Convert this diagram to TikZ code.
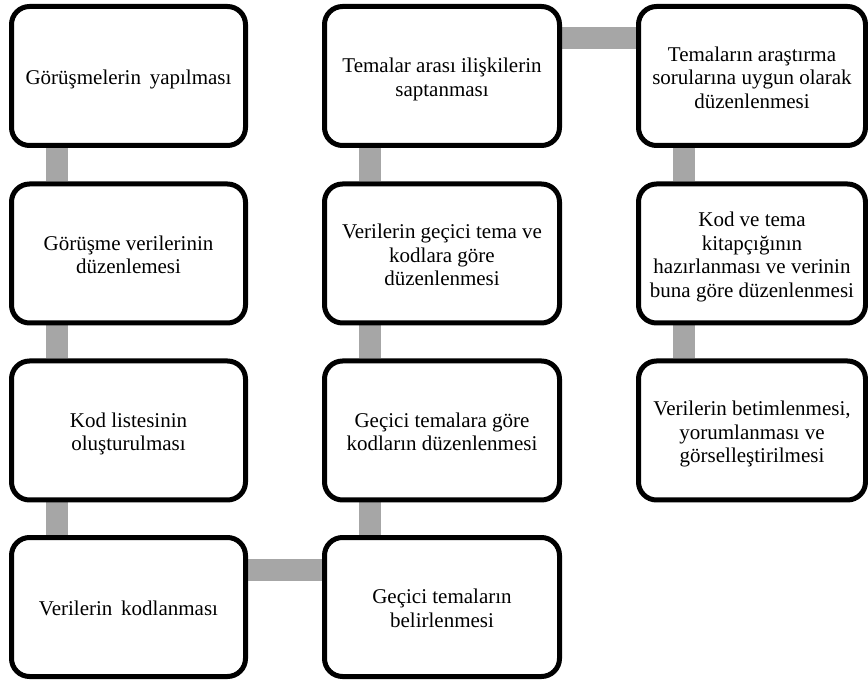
\documentclass[tikz,border=0pt]{standalone}
\usepackage{fontspec}
\setmainfont{Liberation Serif}
\pgfdeclarelayer{background}
\pgfsetlayers{background,main}
\definecolor{conngray}{RGB}{166,166,166}
\newcommand\boxtext[1]{\raisebox{-4pt}[\height][\depth]{\begin{tabular}{@{}c@{}}#1\end{tabular}}}
\tikzset{
  box/.style={draw=black, line width=5pt, fill=white, rounded corners=18pt,
    minimum height=139pt, inner sep=2pt,
    font=\fontsize{21}{23.5}\selectfont},
  c1/.style={box, minimum width=234pt},
  c2/.style={box, minimum width=235pt},
  c3/.style={box, minimum width=227pt},
  conn/.style={draw=conngray, line width=22pt}
}
\begin{document}
\begin{tikzpicture}[x=1pt,y=-1pt]
\useasboundingbox (0,0) rectangle (868,684);
% column 1
\node[c1] (a1) at (128.5,76) {\boxtext{Görüşmelerin\, yapılması}};
\node[c1] (a2) at (128.5,253.5) {\boxtext{Görüşme verilerinin\\düzenlemesi}};
\node[c1] (a3) at (128.5,430.5) {\boxtext{Kod listesinin\\oluşturulması}};
\node[c1] (a4) at (128.5,607) {\boxtext{Verilerin\, kodlanması}};
% column 2
\node[c2] (b4) at (442,607) {\boxtext{Geçici temaların\\belirlenmesi}};
\node[c2] (b3) at (442,430.5) {\boxtext{Geçici temalara göre\\kodların düzenlenmesi}};
\node[c2] (b2) at (442,253.5) {\boxtext{Verilerin geçici tema ve\\kodlara göre\\düzenlenmesi}};
\node[c2] (b1) at (442,76) {\boxtext{Temalar arası ilişkilerin\\saptanması}};
% column 3
\node[c3] (d1) at (752,76) {\boxtext{Temaların araştırma\\sorularına uygun olarak\\düzenlenmesi}};
\node[c3] (d2) at (752,253.5) {\boxtext{Kod ve tema\\kitapçığının\\hazırlanması ve verinin\\buna göre düzenlenmesi}};
\node[c3] (d3) at (752,430.5) {\boxtext{Verilerin betimlenmesi,\\yorumlanması ve\\görselleştirilmesi}};
% connectors
\begin{pgfonlayer}{background}
\draw[conn] ([xshift=48pt]a1.south west) -- ([xshift=48pt]a2.north west);
\draw[conn] ([xshift=48pt]a2.south west) -- ([xshift=48pt]a3.north west);
\draw[conn] ([xshift=48pt]a3.south west) -- ([xshift=48pt]a4.north west);
\draw[conn] ([yshift=-34.5pt]a4.north east) -- ([yshift=-34.5pt]b4.north west);
\draw[conn] ([xshift=48pt]b4.north west) -- ([xshift=48pt]b3.south west);
\draw[conn] ([xshift=48pt]b3.north west) -- ([xshift=48pt]b2.south west);
\draw[conn] ([xshift=48pt]b2.north west) -- ([xshift=48pt]b1.south west);
\draw[conn] ([yshift=-34.5pt]b1.north east) -- ([yshift=-34.5pt]d1.north west);
\draw[conn] ([xshift=48pt]d1.south west) -- ([xshift=48pt]d2.north west);
\draw[conn] ([xshift=48pt]d2.south west) -- ([xshift=48pt]d3.north west);
\end{pgfonlayer}
\end{tikzpicture}
\end{document}
